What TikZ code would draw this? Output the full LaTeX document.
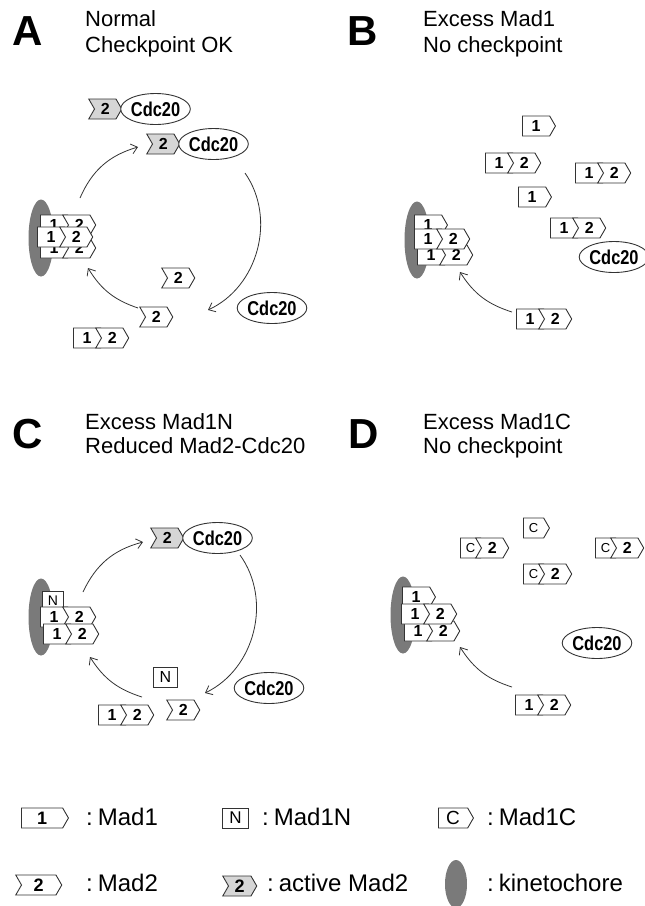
\documentclass[tikz,border=0pt]{standalone}
\usepackage{fontspec}
\setmainfont{Liberation Sans}
\newfontfamily\narrowsans[FakeStretch=0.82]{Liberation Sans}
\usetikzlibrary{arrows.meta, shapes.geometric, shapes.symbols, positioning}
\definecolor{kinGrey}{HTML}{7A7A7A}
\definecolor{actGrey}{HTML}{D6D6D6}
\definecolor{lineGrey}{HTML}{333333}
\tikzset{
  % pixel-like units, y running down the page
  every picture/.append style = {x=1pt, y=-1pt},
  outline/.style = {draw=lineGrey, line width=0.9pt},
  madone/.style  = {signal, signal to=east, signal pointer angle=120, outline,
                    fill=white, minimum height=20pt, minimum width=33pt,
                    inner sep=0pt, font=\fontsize{16}{16}\selectfont\bfseries},
  madtwo/.style  = {madone, signal from=west},
  active/.style  = {madtwo, fill=actGrey},
  nbox/.style    = {rectangle, outline, fill=white, minimum height=20pt,
                    minimum width=22pt, inner sep=0pt,
                    font=\fontsize{14}{14}\selectfont},
  cbox/.style    = {madone, minimum width=26pt, font=\fontsize{13}{13}\selectfont},
  cdc/.style     = {ellipse, outline, fill=white, minimum width=57pt,
                    minimum height=31pt, inner sep=0pt,
                    font=\narrowsans\fontsize{20}{20}\selectfont\bfseries},
  kineto/.style  = {ellipse, fill=kinGrey, minimum width=25pt,
                    minimum height=77pt, inner sep=0pt},
  flow/.style    = {draw=lineGrey, line width=0.8pt,
                    -{Straight Barb[length=6pt, width=10pt]}},
  panel/.style   = {anchor=base west, inner sep=0pt,
                    font=\fontsize{42}{42}\selectfont\bfseries},
  head/.style    = {anchor=base west, inner sep=0pt,
                    font=\fontsize{22}{26}\selectfont},
  key/.style     = {anchor=base west, inner sep=0pt,
                    font=\fontsize{24}{28}\selectfont},
}

\begin{document}
\begin{tikzpicture}
  \useasboundingbox (0,0) rectangle (645,906);

  % A: normal cycle
  \node[panel] (pA) at (12,45) {A};
  \node[head] (hA1) at (85,26) {Normal};
  \node[head] (hA2) at (85,52) {Checkpoint OK};
  \node[kineto] (kA) at (41,238) {};
  \foreach \x/\y/\n in {40/225/a, 40/248/b, 37/237/c, 73/338/d} {
    \node[madone, anchor=west] (A\n1) at (\x,\y) {1};
    \node[madtwo, right=-6pt of A\n1] (A\n2) {2};
  }
  \node[active, anchor=west] (Aact1) at (94,109) {2};
  \node[cdc, right=-2pt of Aact1] (Acdc1) {Cdc20};
  \node[active, anchor=west] (Aact2) at (152,144) {2};
  \node[cdc, right=-2pt of Aact2] (Acdc2) {Cdc20};
  \node[madtwo, anchor=west] (Afree1) at (167,278) {2};
  \node[madtwo, anchor=west] (Afree2) at (145,317) {2};
  \node[cdc] (Acdc3) at (272,308) {Cdc20};
  \coordinate (As1) at (80,198);   \coordinate (Ae1) at (138,147);
  \coordinate (As2) at (245,173);  \coordinate (Ae2) at (208,310);
  \coordinate (As3) at (138,308);  \coordinate (Ae3) at (88,268);
  \draw[flow] (As1) to[bend left=25] (Ae1);
  \draw[flow] (As2) to[bend left=50] (Ae2);
  \draw[flow] (As3) to[bend left=20] (Ae3);

  % B: excess Mad1
  \node[panel] (pB) at (347,45) {B};
  \node[head] (hB1) at (423,26) {Excess Mad1};
  \node[head] (hB2) at (423,52) {No checkpoint};
  \node[kineto] (kB) at (417,240) {};
  \node[madone, anchor=west] (Btop) at (414,225) {1};
  \foreach \x/\y/\n in {417/255/a, 414/239/b, 485/163/c, 575/173/d, 550/228/e, 516/319/f} {
    \node[madone, anchor=west] (B\n1) at (\x,\y) {1};
    \node[madtwo, right=-6pt of B\n1] (B\n2) {2};
  }
  \node[madone, anchor=west] (Bone1) at (522,126) {1};
  \node[madone, anchor=west] (Bone2) at (518,197) {1};
  \node[cdc] (Bcdc) at (614,257) {Cdc20};
  \coordinate (Bs) at (512,312);  \coordinate (Be) at (460,272);
  \draw[flow] (Bs) to[bend left=20] (Be);

  % C: excess Mad1N
  \node[panel] (pC) at (12,448) {C};
  \node[head] (hC1) at (85,429) {Excess Mad1N};
  \node[head] (hC2) at (85,453) {Reduced Mad2-Cdc20};
  \node[kineto] (kC) at (41,617) {};
  \node[nbox, anchor=west, minimum width=21pt] (Ctop) at (42,601) {N};
  \foreach \x/\y/\n in {40/617/a, 43/634/b, 98/715/c} {
    \node[madone, anchor=west] (C\n1) at (\x,\y) {1};
    \node[madtwo, right=-6pt of C\n1] (C\n2) {2};
  }
  \node[active, anchor=west] (Cact) at (156,538) {2};
  \node[cdc, right=-2pt of Cact] (Ccdc1) {Cdc20};
  \node[nbox, anchor=west, minimum width=24pt, font=\fontsize{16}{16}\selectfont]
    (Cfree) at (153,677) {N};
  \node[madtwo, anchor=west] (Ctwo) at (172,710) {2};
  \node[cdc] (Ccdc2) at (269,688) {Cdc20};
  \coordinate (Cs1) at (83,592);   \coordinate (Ce1) at (143,542);
  \coordinate (Cs2) at (240,555);  \coordinate (Ce2) at (205,693);
  \coordinate (Cs3) at (142,697);  \coordinate (Ce3) at (90,657);
  \draw[flow] (Cs1) to[bend left=25] (Ce1);
  \draw[flow] (Cs2) to[bend left=50] (Ce2);
  \draw[flow] (Cs3) to[bend left=20] (Ce3);

  % D: excess Mad1C
  \node[panel] (pD) at (348,448) {D};
  \node[head] (hD1) at (423,429) {Excess Mad1C};
  \node[head] (hD2) at (423,453) {No checkpoint};
  \node[kineto] (kD) at (403,615) {};
  \node[madone, anchor=west] (Dtop) at (402,597) {1};
  \foreach \x/\y/\n in {404/631/a, 401/614/b, 515/705/c} {
    \node[madone, anchor=west] (D\n1) at (\x,\y) {1};
    \node[madtwo, right=-6pt of D\n1] (D\n2) {2};
  }
  \foreach \x/\y/\n in {460/548/d, 595/548/e, 523/574/f} {
    \node[cbox, anchor=west] (D\n1) at (\x,\y) {C};
    \node[madtwo, right=-6pt of D\n1] (D\n2) {2};
  }
  \node[cbox, anchor=west] (Done) at (523,528) {C};
  \node[cdc] (Dcdc) at (597,643) {Cdc20};
  \coordinate (Ds) at (512,687);  \coordinate (De) at (460,647);
  \draw[flow] (Ds) to[bend left=20] (De);

  % legend
  \node[madone, anchor=west, minimum width=47pt, font=\fontsize{18}{18}\selectfont\bfseries]
    (LMad1) at (21,818) {1};
  \node[key] (tMad1) at (86,825) {:\hskip5pt Mad1};
  \node[nbox, anchor=west, minimum width=26pt, font=\fontsize{17}{17}\selectfont]
    (LMadN) at (222,818) {N};
  \node[key] (tMadN) at (262,825) {:\hskip5pt Mad1N};
  \node[cbox, anchor=west, minimum width=35pt, font=\fontsize{19}{19}\selectfont]
    (LMadC) at (438,818) {C};
  \node[key] (tMadC) at (487,825) {:\hskip5pt Mad1C};
  \node[madtwo, anchor=west, minimum width=46pt, font=\fontsize{18}{18}\selectfont\bfseries]
    (LMad2) at (21,885) {2};
  \node[key] (tMad2) at (86,891) {:\hskip5pt Mad2};
  \node[active, anchor=west, minimum width=34pt, font=\fontsize{18}{18}\selectfont\bfseries]
    (LAct) at (228,886) {2};
  \node[key] (tAct) at (267,891) {:\hskip5pt active Mad2};
  \node[kineto, minimum width=22pt, minimum height=48pt] (LKin) at (456,884) {};
  \node[key] (tKin) at (487,891) {:\hskip5pt kinetochore};
\end{tikzpicture}
\end{document}
